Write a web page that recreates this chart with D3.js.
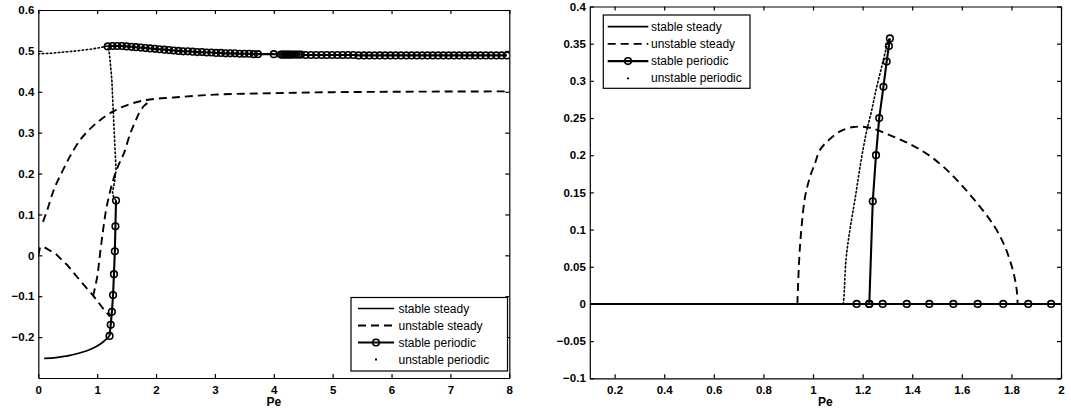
<!DOCTYPE html>
<html>
<head>
<meta charset="utf-8">
<script src="https://cdn.jsdelivr.net/npm/d3@7"></script>
<style>
  html, body { margin: 0; padding: 0; background: #fff; }
  svg { display: block; }
  .tick text { font-family: "Liberation Sans", Arial, sans-serif; font-size: 11.5px; font-weight: bold; fill: #000; }
  .axlabel { font-family: "Liberation Sans", Arial, sans-serif; font-size: 12px; font-weight: bold; fill: #000; }
  .legtext { font-family: "Liberation Sans", Arial, sans-serif; font-size: 12px; fill: #000; }
</style>
</head>
<body>
<svg id="chart" width="1071" height="411"></svg>
<script>
// ---------------- DATA ----------------
// Left panel ticks
const leftXTicks = [0, 1, 2, 3, 4, 5, 6, 7, 8];
const leftXTickLabels = ["0", "1", "2", "3", "4", "5", "6", "7", "8"];
const leftYTicks = [-0.2, -0.1, 0, 0.1, 0.2, 0.3, 0.4, 0.5, 0.6];
const leftYTickLabels = ["\u22120.2", "\u22120.1", "0", "0.1", "0.2", "0.3", "0.4", "0.5", "0.6"];

// Right panel ticks
const rightXTicks = [0.2, 0.4, 0.6, 0.8, 1, 1.2, 1.4, 1.6, 1.8, 2];
const rightXTickLabels = ["0.2", "0.4", "0.6", "0.8", "1", "1.2", "1.4", "1.6", "1.8", "2"];
const rightYTicks = [-0.1, -0.05, 0, 0.05, 0.1, 0.15, 0.2, 0.25, 0.3, 0.35, 0.4];
const rightYTickLabels = ["\u22120.1", "\u22120.05", "0", "0.05", "0.1", "0.15", "0.2", "0.25", "0.3", "0.35", "0.4"];

const legendLabels = ["stable steady", "unstable steady", "stable periodic", "unstable periodic"];
const xAxisTitle = "Pe";

// Left panel series  [Pe, value]
const leftStableSteady = [[0.1,-0.252],[0.3,-0.250],[0.5,-0.246],[0.7,-0.239],[0.9,-0.229],[1.0,-0.222],[1.1,-0.212],[1.21,-0.197]];
const leftUnstableSteadyUpper = [[0.08,0.082],[0.15,0.11],[0.25,0.155],[0.4,0.203],[0.55,0.245],[0.7,0.28],[0.85,0.305],[1.0,0.325],[1.27,0.352],[1.56,0.370],[1.84,0.380],[2.3,0.386],[3.0,0.393],[3.8,0.396],[5.0,0.399],[6.0,0.400],[8.0,0.401]];
const leftUnstableSteadyLower = [[0.0,0.0],[0.03,0.02],[0.1,0.02],[0.3,0.003],[0.5,-0.025],[0.7,-0.06],[0.93,-0.098],[1.1,-0.13],[1.22,-0.15]];
const leftUnstableSteadySteep = [[0.93,-0.1],[1.0,-0.053],[1.05,0.005],[1.10,0.061],[1.16,0.118],[1.27,0.183],[1.36,0.22],[1.45,0.248],[1.56,0.297],[1.64,0.325],[1.72,0.35],[1.80,0.366],[1.9,0.377]];
const leftStablePeriodicLower = [[1.21,-0.197],[1.23,-0.17],[1.25,-0.138],[1.27,-0.097],[1.285,-0.046],[1.30,0.01],[1.31,0.071],[1.32,0.134]];
const leftStablePeriodicUpper = [
  [1.18,0.511],[1.26,0.512],[1.34,0.512],[1.42,0.512],[1.50,0.511],[1.58,0.510],[1.66,0.509],[1.74,0.508],[1.82,0.507],[1.90,0.506],
  [1.98,0.505],[2.06,0.504],[2.14,0.503],[2.22,0.502],[2.30,0.501],[2.38,0.500],[2.46,0.499],[2.54,0.499],[2.62,0.498],[2.70,0.497],
  [2.78,0.497],[2.86,0.496],[2.94,0.496],[3.02,0.495],[3.10,0.495],[3.18,0.494],[3.26,0.494],[3.34,0.494],[3.42,0.493],[3.50,0.493],
  [3.58,0.493],[3.66,0.492],[3.73,0.492],[4.00,0.492],
  [4.12,0.491],[4.15,0.491],[4.18,0.491],[4.21,0.491],[4.24,0.491],[4.27,0.491],[4.30,0.491],[4.34,0.491],[4.38,0.491],[4.42,0.491],[4.46,0.491],
  [4.54,0.490],[4.63,0.490],[4.72,0.490],[4.81,0.490],[4.90,0.490],[4.99,0.490],[5.08,0.490],[5.17,0.490],[5.26,0.490],[5.35,0.490],
  [5.44,0.489],[5.53,0.489],[5.62,0.489],[5.71,0.489],[5.80,0.489],[5.89,0.489],[5.98,0.489],[6.07,0.489],[6.16,0.489],[6.25,0.489],
  [6.34,0.489],[6.43,0.489],[6.52,0.489],[6.61,0.489],[6.70,0.489],[6.79,0.489],[6.88,0.489],[6.97,0.489],[7.06,0.489],[7.15,0.489],
  [7.24,0.489],[7.33,0.489],[7.42,0.489],[7.51,0.489],[7.60,0.489],[7.69,0.489],[7.78,0.489],[7.87,0.489],[7.96,0.489]
];
const leftUnstablePeriodic = [[0,0.493],[0.2,0.494],[0.42,0.497],[0.65,0.500],[0.88,0.504],[1.05,0.508],[1.17,0.512],[1.20,0.500],[1.22,0.476],[1.25,0.427],[1.27,0.362],[1.29,0.30],[1.31,0.24],[1.32,0.21],[1.30,0.183],[1.26,0.155],[1.28,0.142],[1.32,0.134]];

// Right panel series
const rightStableSteady = [[0.1,0],[2.0,0]];
const rightUnstableSteady = [[0.937,0],[0.945,0.064],[0.954,0.104],[0.968,0.144],[0.988,0.171],[1.008,0.189],[1.028,0.207],[1.062,0.220],[1.109,0.232],[1.163,0.238],[1.23,0.237],[1.316,0.226],[1.385,0.216],[1.454,0.203],[1.524,0.185],[1.593,0.162],[1.663,0.135],[1.732,0.104],[1.774,0.077],[1.802,0.05],[1.815,0.032],[1.823,0.014],[1.825,0]];
const rightStablePeriodicBranch = [[1.227,0],[1.241,0.138],[1.254,0.200],[1.267,0.250],[1.284,0.292],[1.297,0.326],[1.306,0.347],[1.31,0.357]];
const rightStablePeriodicZero = [[1.176,0],[1.227,0],[1.281,0],[1.378,0],[1.469,0],[1.566,0],[1.664,0],[1.767,0],[1.868,0],[1.96,0]];
const rightUnstablePeriodic = [[1.122,0],[1.125,0.01],[1.133,0.059],[1.149,0.1],[1.169,0.14],[1.19,0.185],[1.214,0.229],[1.237,0.261],[1.257,0.292],[1.277,0.319],[1.297,0.346],[1.306,0.356]];

// ---------------- DRAW ----------------
const svg = d3.select("#chart");
svg.append("rect").attr("width", 1071).attr("height", 411).attr("fill", "#fff");

const STYLE = {
  stableSteady: { w: 1.7, dash: null },
  unstableSteady: { w: 1.9, dash: "8,5" },
  stablePeriodic: { w: 2.1, dash: null },
  unstablePeriodic: { w: 1.6, dash: "1.5,2.5" }
};

function panel(cfg) {
  const g = svg.append("g");
  const x = d3.scaleLinear().domain(cfg.xDomain).range([cfg.left, cfg.right]);
  const y = d3.scaleLinear().domain(cfg.yDomain).range([cfg.bottom, cfg.top]);
  const id = "clip" + cfg.name;
  svg.append("clipPath").attr("id", id).append("rect")
    .attr("x", cfg.left).attr("y", cfg.top)
    .attr("width", cfg.right - cfg.left).attr("height", cfg.bottom - cfg.top);

  const xl = cfg.xTicks, yl = cfg.yTicks;
  g.append("g").attr("transform", `translate(0,${cfg.bottom})`)
    .call(d3.axisBottom(x).tickValues(xl).tickFormat((d, i) => cfg.xLabels[i]).tickSizeInner(-4).tickSizeOuter(0).tickPadding(8));
  g.append("g").attr("transform", `translate(0,${cfg.top})`)
    .call(d3.axisTop(x).tickValues(xl).tickFormat("").tickSizeInner(-4).tickSizeOuter(0));
  g.append("g").attr("transform", `translate(${cfg.left},0)`)
    .call(d3.axisLeft(y).tickValues(yl).tickFormat((d, i) => cfg.yLabels[i]).tickSizeInner(-4).tickSizeOuter(0).tickPadding(4));
  g.append("g").attr("transform", `translate(${cfg.right},0)`)
    .call(d3.axisRight(y).tickValues(yl).tickFormat("").tickSizeInner(-4).tickSizeOuter(0));
  g.selectAll(".domain, .tick line").attr("stroke", "#000").attr("stroke-width", 1.2);

  g.append("text").attr("class", "axlabel")
    .attr("x", (cfg.left + cfg.right) / 2).attr("y", cfg.bottom + 28)
    .attr("text-anchor", "middle").text(xAxisTitle);

  const plot = g.append("g").attr("clip-path", `url(#${id})`);
  const line = d3.line().x(d => x(d[0])).y(d => y(d[1]));

  function path(data, st, curve) {
    plot.append("path").datum(data)
      .attr("d", line.curve(curve || d3.curveLinear))
      .attr("fill", "none").attr("stroke", "#000")
      .attr("stroke-width", st.w)
      .attr("stroke-dasharray", st.dash)
      .attr("stroke-linejoin", "round").attr("stroke-linecap", st.dash && st.dash.startsWith("1.5") ? "round" : "butt");
  }
  function circles(data) {
    plot.append("g").selectAll("circle").data(data).join("circle")
      .attr("cx", d => x(d[0])).attr("cy", d => y(d[1])).attr("r", 3.3)
      .attr("fill", "none").attr("stroke", "#000").attr("stroke-width", 1.6);
  }
  cfg.draw(path, circles);

  // legend
  const L = cfg.legend;
  g.append("rect").attr("x", L.x0).attr("y", L.y0).attr("width", L.x1 - L.x0).attr("height", L.y1 - L.y0)
    .attr("fill", "#fff").attr("stroke", "#000").attr("stroke-width", 1.2);
  const styles = [STYLE.stableSteady, STYLE.unstableSteady, STYLE.stablePeriodic, STYLE.unstablePeriodic];
  legendLabels.forEach((lab, i) => {
    const cy = L.firstY + i * L.step;
    const st = styles[i];
    if (i < 3) {
      g.append("line").attr("x1", L.lx0).attr("x2", L.lx1).attr("y1", cy).attr("y2", cy)
        .attr("stroke", "#000").attr("stroke-width", st.w).attr("stroke-dasharray", i === 1 ? "8,5" : null);
    } else {
      g.append("line").attr("x1", (L.lx0 + L.lx1) / 2 - 1).attr("x2", (L.lx0 + L.lx1) / 2 + 1).attr("y1", cy).attr("y2", cy)
        .attr("stroke", "#000").attr("stroke-width", 1.8);
    }
    if (i === 2) {
      g.append("circle").attr("cx", (L.lx0 + L.lx1) / 2).attr("cy", cy).attr("r", 3.3)
        .attr("fill", "none").attr("stroke", "#000").attr("stroke-width", 1.6);
    }
    g.append("text").attr("class", "legtext").attr("x", L.tx).attr("y", cy + 4).text(lab);
  });
}

panel({
  name: "L", left: 38.3, right: 509.3, top: 10, bottom: 378,
  xDomain: [0, 8], yDomain: [-0.3, 0.6],
  xTicks: leftXTicks, xLabels: leftXTickLabels, yTicks: leftYTicks, yLabels: leftYTickLabels,
  legend: { x0: 351, y0: 297.5, x1: 507.5, y1: 371, lx0: 358, lx1: 394, tx: 398.5, firstY: 308.5, step: 17 },
  draw(path, circles) {
    path(leftStableSteady, STYLE.stableSteady, d3.curveMonotoneX);
    path(leftUnstableSteadyUpper, STYLE.unstableSteady, d3.curveMonotoneX);
    path(leftUnstableSteadyLower, STYLE.unstableSteady);
    path(leftUnstableSteadySteep, STYLE.unstableSteady, d3.curveCatmullRom);
    path(leftUnstablePeriodic, STYLE.unstablePeriodic);
    path(leftStablePeriodicLower, STYLE.stablePeriodic);
    circles(leftStablePeriodicLower);
    path(leftStablePeriodicUpper, STYLE.stablePeriodic);
    circles(leftStablePeriodicUpper);
  }
});

panel({
  name: "R", left: 589.8, right: 1061, top: 6.5, bottom: 378.3,
  xDomain: [0.1, 2], yDomain: [-0.1, 0.4],
  xTicks: rightXTicks, xLabels: rightXTickLabels, yTicks: rightYTicks, yLabels: rightYTickLabels,
  legend: { x0: 603.3, y0: 15, x1: 750, y1: 88.3, lx0: 607.7, lx1: 648.3, tx: 651, firstY: 26.7, step: 17.2 },
  draw(path, circles) {
    path(rightStableSteady, { w: 2.1, dash: null });
    path(rightUnstableSteady, STYLE.unstableSteady, d3.curveCatmullRom);
    path(rightUnstablePeriodic, STYLE.unstablePeriodic, d3.curveCatmullRom);
    path(rightStablePeriodicBranch, STYLE.stablePeriodic);
    circles(rightStablePeriodicBranch);
    path(rightStablePeriodicZero, STYLE.stablePeriodic);
    circles(rightStablePeriodicZero);
  }
});
</script>
</body>
</html>
